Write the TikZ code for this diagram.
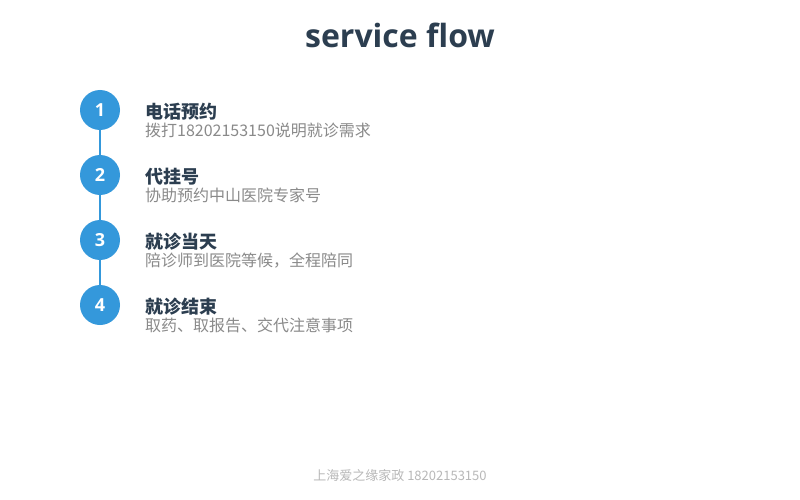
\documentclass[tikz,border=0pt]{standalone}
\usepackage{fontspec}
\setmainfont{Open Sans}
\newfontfamily\cjk{Noto Sans CJK SC}
\definecolor{darkc}{HTML}{2C3E50}
\definecolor{bluec}{HTML}{3498DB}
\definecolor{greyc}{HTML}{8A8A8A}
\definecolor{footc}{HTML}{B8B8B8}
\tikzset{
  stepcircle/.style={circle,fill=bluec,draw=none,minimum size=40pt,inner sep=0pt,text=white,font=\fontsize{18}{20}\selectfont\bfseries},
  steptitle/.style={anchor=base west,inner sep=0pt,text=darkc,font=\cjk\fontsize{18}{20}\selectfont\bfseries},
  stepsub/.style={anchor=base west,inner sep=0pt,text=greyc,font=\cjk\fontsize{16}{18}\selectfont},
  link/.style={draw=bluec,line width=2pt}
}
\begin{document}
\begin{tikzpicture}[x=1pt,y=-1pt]
\useasboundingbox[fill=white] (0,0) rectangle (800,500);
\node[anchor=base,inner sep=0pt,text=darkc,font=\fontsize{32}{36}\selectfont\bfseries] (title) at (400,48) {service flow};
\node[stepcircle] (c1) at (100,110) {1};
\node[stepcircle] (c2) at (100,175) {2};
\node[stepcircle] (c3) at (100,240) {3};
\node[stepcircle] (c4) at (100,305) {4};
\draw[link] (c1) -- (c2);
\draw[link] (c2) -- (c3);
\draw[link] (c3) -- (c4);
\node[steptitle] (t1) at (145,118) {电话预约};
\node[stepsub] (s1) at (145,136) {拨打18202153150说明就诊需求};
\node[steptitle] (t2) at (145,183) {代挂号};
\node[stepsub] (s2) at (145,201) {协助预约中山医院专家号};
\node[steptitle] (t3) at (145,248) {就诊当天};
\node[stepsub] (s3) at (145,266) {陪诊师到医院等候，全程陪同};
\node[steptitle] (t4) at (145,313) {就诊结束};
\node[stepsub] (s4) at (145,331) {取药、取报告、交代注意事项};
\node[anchor=base,inner sep=0pt,text=footc,font=\cjk\fontsize{13}{15}\selectfont] (foot) at (400,480) {上海爱之缘家政 18202153150};
\end{tikzpicture}
\end{document}
